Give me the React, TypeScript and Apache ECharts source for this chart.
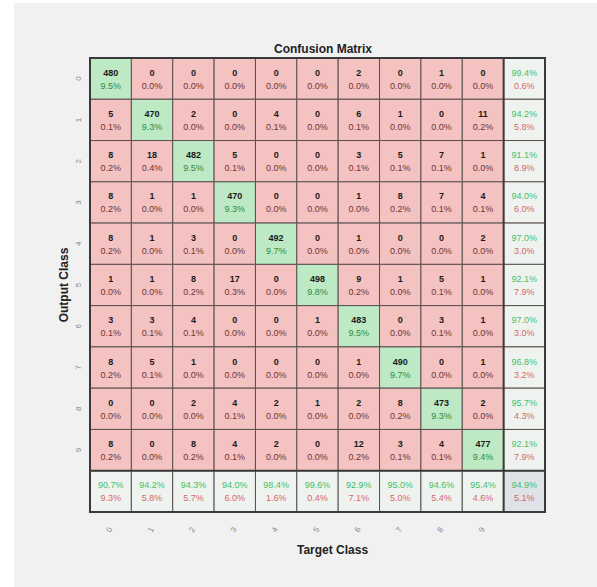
import React, { useEffect, useRef } from "react";
import * as echarts from "echarts";

const classLabels = ["0", "1", "2", "3", "4", "5", "6", "7", "8", "9"];
// rows = output class, columns = target class
const row0 = [480, 0, 0, 0, 0, 0, 2, 0, 1, 0];
const row1 = [5, 470, 2, 0, 4, 0, 6, 1, 0, 11];
const row2 = [8, 18, 482, 5, 0, 0, 3, 5, 7, 1];
const row3 = [8, 1, 1, 470, 0, 0, 1, 8, 7, 4];
const row4 = [8, 1, 3, 0, 492, 0, 1, 0, 0, 2];
const row5 = [1, 1, 8, 17, 0, 498, 9, 1, 5, 1];
const row6 = [3, 3, 4, 0, 0, 1, 483, 0, 3, 1];
const row7 = [8, 5, 1, 0, 0, 0, 1, 490, 0, 1];
const row8 = [0, 0, 2, 4, 2, 1, 2, 8, 473, 2];
const row9 = [8, 0, 8, 4, 2, 0, 12, 3, 4, 477];
const matrix = [row0, row1, row2, row3, row4, row5, row6, row7, row8, row9];

const FONT = "'Liberation Sans', Arial, Helvetica, sans-serif";

function pct(v: number): string {
  return (Math.round(v * 1000) / 10).toFixed(1) + "%";
}

export default function App() {
  const ref = useRef<HTMLDivElement>(null);
  useEffect(() => {
    if (!ref.current) return;
    const chart = echarts.init(ref.current, undefined, { renderer: "svg" });
    const n = classLabels.length;
    const total = matrix.reduce((a, r) => a + r.reduce((s, v) => s + v, 0), 0);
    const rowSums = matrix.map((r) => r.reduce((s, v) => s + v, 0));
    const colSums = classLabels.map((_, j) => matrix.reduce((s, r) => s + r[j], 0));
    const trace = matrix.reduce((s, r, i) => s + r[i], 0);

    type Cell = { x: number; y: number; top: string; bot: string; kind: string };
    const cells: Cell[] = [];
    for (let i = 0; i < n; i++) {
      for (let j = 0; j < n; j++) {
        const v = matrix[i][j];
        cells.push({ x: j, y: i, top: String(v), bot: pct(v / total), kind: i === j ? "diag" : "off" });
      }
      const acc = matrix[i][i] / rowSums[i];
      cells.push({ x: n, y: i, top: pct(acc), bot: pct(1 - acc), kind: "sum" });
    }
    for (let j = 0; j < n; j++) {
      const acc = matrix[j][j] / colSums[j];
      cells.push({ x: j, y: n, top: pct(acc), bot: pct(1 - acc), kind: "sum" });
    }
    const oacc = trace / total;
    cells.push({ x: n, y: n, top: pct(oacc), bot: pct(1 - oacc), kind: "corner" });

    const fills: Record<string, string> = {
      diag: "#bdeac4",
      off: "#f4c2c1",
      sum: "#eff3ef",
      corner: "#dde3e6",
    };

    const cats = [...classLabels, ""];

    chart.setOption({
      animation: false,
      backgroundColor: "transparent",
      title: {
        text: "Confusion Matrix",
        left: 318,
        top: 38,
        textAlign: "center",
        textStyle: { fontFamily: FONT, fontSize: 12, fontWeight: "bold", color: "#222" },
      },
      graphic: [
        {
          type: "rect",
          z: -10,
          silent: true,
          shape: { x: 14, y: 3, width: 583, height: 584 },
          style: { fill: "#f1f1f1" },
        },
        {
          type: "text",
          left: 297,
          top: 544,
          style: { text: "Target Class", font: `bold 12px ${FONT}`, fill: "#222" },
        },
        {
          type: "text",
          x: 64,
          y: 285,
          rotation: Math.PI / 2,
          style: {
            text: "Output Class",
            font: `bold 12px ${FONT}`,
            fill: "#222",
            align: "center",
            verticalAlign: "middle",
          },
        },
      ],
      grid: { left: 90, top: 58, width: 455, height: 454 },
      xAxis: {
        type: "category",
        data: cats,
        position: "bottom",
        axisLine: { show: false },
        axisTick: { show: false },
        splitLine: { show: false },
        axisLabel: { rotate: 60, margin: 16, fontSize: 8, color: "#888", fontFamily: FONT },
      },
      yAxis: {
        type: "category",
        data: cats,
        inverse: true,
        axisLine: { show: false },
        axisTick: { show: false },
        splitLine: { show: false },
        axisLabel: { rotate: 90, margin: 8, fontSize: 8, color: "#888", fontFamily: FONT },
      },
      series: [
        {
          type: "custom",
          coordinateSystem: "cartesian2d",
          data: cells.map((c) => [c.x, c.y]),
          renderItem: (params: any, api: any) => {
            const d = cells[params.dataIndex];
            const c = api.coord([api.value(0), api.value(1)]);
            const s = api.size([1, 1]);
            const w = s[0];
            const h = s[1];
            const isSum = d.kind === "sum" || d.kind === "corner";
            const topFill = isSum ? "#3fbf6a" : "#1a1a1a";
            const botFill = isSum ? "#d9646a" : d.kind === "diag" ? "#2f8a45" : "#6e3535";
            return {
              type: "group",
              children: [
                {
                  type: "rect",
                  shape: { x: c[0] - w / 2, y: c[1] - h / 2, width: w, height: h },
                  style: { fill: fills[d.kind], stroke: "#5a5050", lineWidth: 1 },
                },
                {
                  type: "text",
                  style: {
                    text: d.top,
                    x: c[0],
                    y: c[1] - 6,
                    align: "center",
                    verticalAlign: "middle",
                    fill: topFill,
                    font: isSum ? `9px ${FONT}` : `bold 9px ${FONT}`,
                  },
                },
                {
                  type: "text",
                  style: {
                    text: d.bot,
                    x: c[0],
                    y: c[1] + 7,
                    align: "center",
                    verticalAlign: "middle",
                    fill: botFill,
                    font: `9px ${FONT}`,
                  },
                },
              ],
            };
          },
        },
        {
          type: "custom",
          coordinateSystem: "cartesian2d",
          z: 5,
          data: [[n, n]],
          silent: true,
          renderItem: (params: any, api: any) => {
            const c = api.coord([n, n]);
            const c0 = api.coord([0, 0]);
            const s = api.size([1, 1]);
            const w = s[0];
            const h = s[1];
            const x0 = c0[0] - w / 2;
            const y0 = c0[1] - h / 2;
            const x1 = c[0] + w / 2;
            const y1 = c[1] + h / 2;
            const xs = c[0] - w / 2;
            const ys = c[1] - h / 2;
            const st = { stroke: "#3a3a3a", lineWidth: 2 };
            return {
              type: "group",
              children: [
                { type: "rect", shape: { x: x0, y: y0, width: x1 - x0, height: y1 - y0 }, style: { ...st, fill: "none" } },
                { type: "line", shape: { x1: xs, y1: y0, x2: xs, y2: y1 }, style: st },
                { type: "line", shape: { x1: x0, y1: ys, x2: x1, y2: ys }, style: st },
              ],
            };
          },
        },
      ],
    });
    return () => chart.dispose();
  }, []);
  return (
    <div
      ref={ref}
      style={{ position: "absolute", left: 0, top: 0, width: 597, height: 587, background: "#ffffff" }}
    />
  );
}
